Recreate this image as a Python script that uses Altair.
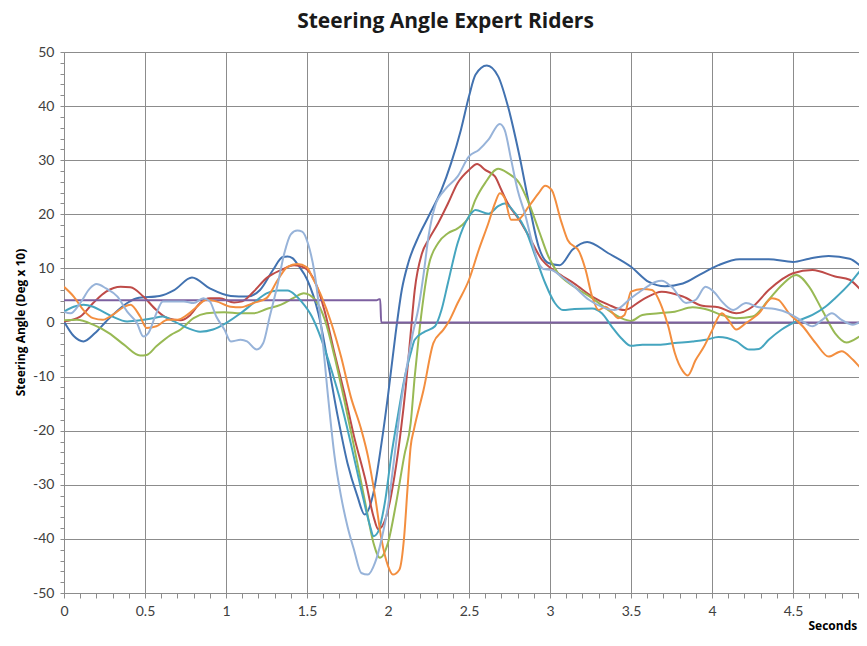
import altair as alt
import pandas as pd

# ---- data (seconds, steering angle deg x 10) ----
s1_t = [0, 0.06, 0.12, 0.19, 0.26, 0.39, 0.45, 0.59, 0.68, 0.79, 0.9, 1.03, 1.13, 1.21, 1.29, 1.35, 1.38, 1.41, 1.45, 1.5,
        1.57, 1.63, 1.69, 1.75, 1.81, 1.856, 1.91, 1.96, 2.0, 2.045, 2.085, 2.125, 2.19, 2.25, 2.33, 2.39, 2.45, 2.5,
        2.54, 2.61, 2.68, 2.74, 2.81, 2.87, 2.93, 2.99, 3.06, 3.14, 3.23, 3.36, 3.5, 3.61, 3.71, 3.82, 3.94, 4.04,
        4.17, 4.35, 4.5, 4.6, 4.72, 4.85, 4.91, 4.97]
s1_v = [0.2, -2.5, -3.5, -2.0, 0.2, 3.6, 4.5, 4.9, 6.0, 8.3, 6.3, 4.9, 4.8, 6.0, 9.7, 12.1, 12.2, 11.9, 10.4, 8.0,
        1.7, -7.5, -17.4, -26.0, -32.0, -35.5, -31.5, -22.3, -13.5, -2.5, 6.0, 11.0, 16.0, 19.6, 24.5, 29.5, 35.6, 41.8,
        45.8, 47.5, 45.5, 40.0, 31.0, 22.0, 14.0, 11.0, 10.6, 13.5, 14.9, 12.8, 10.3, 7.5, 6.7, 7.2, 9.1, 10.6,
        11.7, 11.7, 11.2, 11.8, 12.3, 11.8, 10.6, 8.8]

s2_t = [0, 0.1, 0.18, 0.26, 0.35, 0.41, 0.49, 0.57, 0.64, 0.72, 0.78, 0.84, 0.9, 0.96, 1.05, 1.1, 1.17, 1.25, 1.34,
        1.42, 1.48, 1.55, 1.61, 1.67, 1.73, 1.79, 1.86, 1.91, 1.94, 1.99, 2.04, 2.08, 2.11, 2.14, 2.165, 2.21, 2.25,
        2.31, 2.37, 2.43, 2.5, 2.55, 2.6, 2.66, 2.7, 2.74, 2.81, 2.87, 2.95, 3.02, 3.08, 3.15, 3.26, 3.36, 3.46, 3.57,
        3.69, 3.82, 3.94, 4.04, 4.15, 4.25, 4.35, 4.5, 4.62, 4.76, 4.85, 4.91, 4.97]
s2_v = [0.2, 1.1, 3.6, 5.7, 6.6, 6.5, 4.8, 2.3, 0.8, 0.4, 1.4, 3.6, 4.5, 4.5, 3.7, 3.9, 5.7, 8.2, 9.7,
        10.6, 10.2, 7.5, 2.0, -5.7, -13.0, -21.0, -29.0, -35.8, -38.2, -35.8, -28.4, -19.8, -11.8, -2.0, 6.0, 12.8, 15.3,
        18.4, 22.0, 25.8, 28.2, 29.3, 28.2, 27.0, 24.5, 22.0, 19.0, 15.9, 11.6, 9.7, 8.5, 7.2, 4.8, 3.3, 2.3, 4.2,
        5.7, 4.8, 3.1, 2.8, 1.7, 2.9, 6.0, 9.1, 9.7, 8.5, 7.9, 6.3, 4.8]

s3_t = [0, 0.08, 0.18, 0.28, 0.37, 0.47, 0.51, 0.57, 0.66, 0.72, 0.8, 0.88, 0.99, 1.09, 1.17, 1.25, 1.34, 1.42, 1.48,
        1.55, 1.61, 1.67, 1.73, 1.79, 1.86, 1.91, 1.95, 2.0, 2.05, 2.1, 2.14, 2.165, 2.19, 2.22, 2.25, 2.31, 2.37,
        2.43, 2.5, 2.54, 2.6, 2.68, 2.74, 2.81, 2.87, 2.93, 2.99, 3.05, 3.15, 3.26, 3.36, 3.44, 3.5, 3.57, 3.67, 3.77,
        3.88, 3.98, 4.06, 4.15, 4.25, 4.35, 4.43, 4.52, 4.6, 4.68, 4.76, 4.83, 4.91, 4.97]
s3_v = [0.4, 0.5, -0.4, -2.0, -4.1, -6.1, -6.0, -4.4, -2.3, -1.3, 0.8, 1.7, 1.9, 1.7, 1.7, 2.5, 3.3, 4.6, 5.4,
        4.2, 0.5, -6.3, -14.3, -22.9, -33.4, -40.7, -43.5, -40.7, -33.4, -24.7, -18.6, -10.0, -2.6, 4.8, 10.4, 14.7, 16.5,
        17.4, 19.6, 22.7, 25.8, 28.4, 27.6, 25.8, 22.0, 17.1, 12.2, 9.1, 6.6, 4.5, 2.3, 0.8, 0.3, 1.4, 1.7, 2.0,
        2.8, 2.3, 1.4, 0.8, 1.1, 4.2, 6.9, 8.8, 6.6, 2.3, -2.0, -3.7, -2.6, -1.3]

s4_t = [0, 1.93, 1.945, 1.952, 1.958, 4.97]
s4_v = [4.1, 4.1, 4.3, 4.3, 0.0, 0.0]

s5_t = [0, 0.06, 0.12, 0.18, 0.24, 0.3, 0.39, 0.47, 0.55, 0.61, 0.68, 0.76, 0.84, 0.92, 1.0, 1.09, 1.17, 1.25, 1.32,
        1.38, 1.43, 1.465, 1.53, 1.59, 1.65, 1.71, 1.77, 1.835, 1.89, 1.91, 1.94, 1.98, 2.02, 2.06, 2.1, 2.14, 2.165,
        2.227, 2.29, 2.33, 2.37, 2.43, 2.5, 2.54, 2.62, 2.68, 2.72, 2.785, 2.85, 2.91, 2.97, 3.03, 3.08, 3.15, 3.26,
        3.32, 3.38, 3.44, 3.5, 3.57, 3.67, 3.77, 3.88, 3.96, 4.04, 4.15, 4.23, 4.29, 4.35, 4.43, 4.52, 4.62, 4.7,
        4.76, 4.85, 4.91, 4.97]
s5_v = [2.0, 2.9, 3.3, 2.9, 2.0, 1.1, 0.2, 0.4, 0.8, 1.1, 0.2, -1.0, -1.7, -1.3, -0.1, 1.7, 3.6, 5.4, 5.9,
        5.9, 5.0, 3.9, 1.1, -3.2, -8.7, -14.9, -22.3, -30.9, -37.7, -39.5, -38.6, -33.4, -24.7, -17.4, -10.6, -5.7, -3.2,
        -1.7, -0.7, 2.3, 7.3, 14.7, 19.6, 20.8, 20.1, 21.5, 22.0, 20.2, 17.1, 12.2, 7.3, 3.6, 2.3, 2.5, 2.6,
        1.7, -0.7, -2.9, -4.3, -4.1, -4.1, -3.8, -3.5, -3.2, -2.7, -3.5, -5.0, -4.9, -3.2, -1.3, 0.2, 1.4, 2.9,
        4.5, 7.2, 9.4, 11.2]

s6_t = [0, 0.06, 0.12, 0.18, 0.24, 0.3, 0.37, 0.41, 0.47, 0.51, 0.57, 0.64, 0.7, 0.76, 0.82, 0.88, 0.94, 1.03, 1.09,
        1.17, 1.25, 1.32, 1.38, 1.44, 1.5, 1.53, 1.59, 1.65, 1.71, 1.77, 1.835, 1.876, 1.92, 1.96, 2.0, 2.03, 2.07,
        2.1, 2.12, 2.14, 2.16, 2.22, 2.28, 2.34, 2.37, 2.43, 2.5, 2.56, 2.62, 2.66, 2.69, 2.72, 2.76, 2.8, 2.87, 2.93,
        2.97, 3.01, 3.07, 3.11, 3.18, 3.22, 3.26, 3.3, 3.34, 3.38, 3.42, 3.46, 3.5, 3.57, 3.63, 3.69, 3.73, 3.77,
        3.82, 3.85, 3.9, 3.95, 4.0, 4.06, 4.1, 4.15, 4.21, 4.29, 4.37, 4.41, 4.475, 4.56, 4.64, 4.72, 4.8, 4.87,
        4.93, 4.97]
s6_v = [6.6, 4.8, 2.3, 0.8, 0.5, 1.4, 2.9, 3.3, 1.1, -1.0, -0.7, 0.5, 0.5, 1.4, 2.9, 4.2, 3.9, 2.9, 2.8,
        3.6, 4.5, 7.9, 10.3, 10.8, 10.2, 8.5, 4.8, -0.1, -6.3, -13.7, -19.8, -24.7, -32.1, -40.1, -45.0, -46.6, -45.7,
        -39.5, -30.9, -22.9, -19.8, -12.4, -3.8, -1.4, -0.1, 3.6, 7.9, 13.4, 18.4, 22.0, 23.9, 23.0, 19.0, 19.0, 21.5, 23.9,
        25.3, 24.5, 18.6, 15.2, 13.1, 9.7, 4.8, 2.3, 2.9, 2.0, 0.8, 1.4, 5.7, 6.2, 6.0, 2.9, -0.7, -5.6,
        -9.0, -9.8, -6.9, -4.5, -1.5, 1.7, 0.5, -1.3, -0.1, 1.7, 4.5, 4.2, 1.7, -0.7, -3.8, -6.3, -5.3, -6.9,
        -8.7, -9.3]

s7_t = [0, 0.04, 0.1, 0.16, 0.2, 0.26, 0.33, 0.39, 0.45, 0.49, 0.52, 0.57, 0.61, 0.68, 0.74, 0.8, 0.86, 0.9, 0.94,
        0.99, 1.03, 1.09, 1.13, 1.19, 1.23, 1.27, 1.32, 1.36, 1.4, 1.44, 1.47, 1.506, 1.547, 1.59, 1.63, 1.67, 1.71,
        1.75, 1.79, 1.835, 1.876, 1.92, 1.96, 2.0, 2.04, 2.08, 2.12, 2.15, 2.19, 2.22, 2.25, 2.29, 2.35, 2.43, 2.5,
        2.56, 2.62, 2.69, 2.72, 2.76, 2.8, 2.85, 2.89, 2.93, 2.96, 3.01, 3.07, 3.15, 3.24, 3.32, 3.4, 3.5, 3.57, 3.65,
        3.69, 3.75, 3.84, 3.9, 3.96, 4.02, 4.06, 4.13, 4.21, 4.29, 4.39, 4.475, 4.56, 4.62, 4.68, 4.74, 4.8, 4.87,
        4.93, 4.97]
s7_v = [2.0, 1.7, 3.6, 6.3, 7.1, 6.3, 4.8, 2.0, -0.1, -2.6, -2.0, 1.7, 3.9, 3.9, 3.9, 3.6, 4.5, 3.9, 1.1,
        -1.3, -3.5, -3.2, -3.5, -5.0, -3.8, 1.1, 7.2, 12.8, 16.3, 17.0, 16.8, 14.6, 9.1, -1.4, -13.7, -24.7, -32.1,
        -37.7, -42.0, -46.3, -46.6, -44.4, -40.1, -34.0, -24.7, -14.9, -7.5, -2.5, 3.0, 9.0, 15.9, 21.5, 24.5, 27.0, 30.7,
        31.9, 33.8, 36.7, 35.6, 30.1, 24.5, 19.6, 14.7, 11.0, 9.9, 9.7, 8.5, 6.6, 4.2, 2.9, 2.3, 4.5, 6.0, 7.5,
        7.7, 6.6, 3.6, 4.2, 6.6, 5.4, 3.9, 2.3, 3.6, 2.8, 2.5, 1.7, 0.2, -0.7, 0.5, 1.7, 0.5, -0.4,
        0.2, -1.3]

series_names = ["S1", "S2", "S3", "S4", "S5", "S6", "S7"]
series_colors = ["#4272B0", "#BE4B48", "#98B954", "#7D60A0", "#45A5BF", "#F38E3F", "#97B3D9"]
series_t = [s1_t, s2_t, s3_t, s4_t, s5_t, s6_t, s7_t]
series_v = [s1_v, s2_v, s3_v, s4_v, s5_v, s6_v, s7_v]

rows = []
for name, ts, vs in zip(series_names, series_t, series_v):
    for i, (t, v) in enumerate(zip(ts, vs)):
        rows.append({"series": name, "t": t, "v": v, "idx": i})
df = pd.DataFrame(rows)

x_ticks = [round(k * 0.1, 1) for k in range(0, 51)]
y_ticks = list(range(-50, 51, 2))

FONT = "Lato"
TFONT = "Open Sans"
GRID = "#8C8C8C"
X_MAJOR = "abs(datum.value*2 - round(datum.value*2)) < 0.001"
Y_MAJOR = "datum.value % 10 === 0"

PLOT_W = 795          # px per second = 162
PLOT_H = 541

x_axis = alt.Axis(
    values=x_ticks,
    labelExpr=X_MAJOR + " ? '' + datum.value : ''",
    gridOpacity={"condition": {"test": X_MAJOR, "value": 1}, "value": 0},
    gridColor=GRID, domainColor=GRID, tickColor=GRID,
    tickSize=5, labelPadding=6, labelOverlap=False, labelFlush=False,
    labelFont=FONT, labelFontSize=14, labelColor="#404040",
    title="Seconds", titleFont=TFONT, titleFontSize=12, titleFontWeight="bold", titleColor="#000000",
    titleX=744, titleY=36, titleAlign="left", titleBaseline="alphabetic", titleAnchor="start",
)
y_axis = alt.Axis(
    values=y_ticks,
    labelExpr=Y_MAJOR + " ? '' + datum.value : ''",
    gridOpacity={"condition": {"test": Y_MAJOR, "value": 1}, "value": 0},
    gridColor=GRID, domainColor=GRID, tickColor=GRID,
    tickSize=4, labelPadding=6, labelOverlap=False, labelFlush=False,
    labelFont=FONT, labelFontSize=14, labelColor="#404040",
    title="Steering Angle (Deg x 10)", titleFont=TFONT, titleFontSize=12, titleFontWeight="bold",
    titleColor="#000000", titleX=-44, titleY=270, titleAngle=270, titleAlign="center", titleBaseline="middle",
)

chart = alt.Chart(df).mark_line(strokeWidth=2, interpolate="monotone", clip=True).encode(
    x=alt.X("t:Q", scale=alt.Scale(domain=[0, PLOT_W / 162], nice=False, zero=False), axis=x_axis),
    y=alt.Y("v:Q", scale=alt.Scale(domain=[-50, 50], nice=False), axis=y_axis),
    color=alt.Color("series:N", scale=alt.Scale(domain=series_names, range=series_colors), legend=None),
    order=alt.Order("idx:Q"),
).properties(
    width=PLOT_W,
    height=PLOT_H,
    title=alt.TitleParams(
        "Steering Angle Expert Riders", font=TFONT, fontSize=21, fontWeight="bold", color="#1A1A1A",
        anchor="middle", dx=-16, offset=13,
    ),
    autosize=alt.AutoSizeParams(type="none"),
    padding={"left": 56, "top": 44, "right": 0, "bottom": 39},
).configure_view(stroke=None).configure(background="white")

chart.save("out.html", embed_options={"renderer": "svg", "actions": False})
